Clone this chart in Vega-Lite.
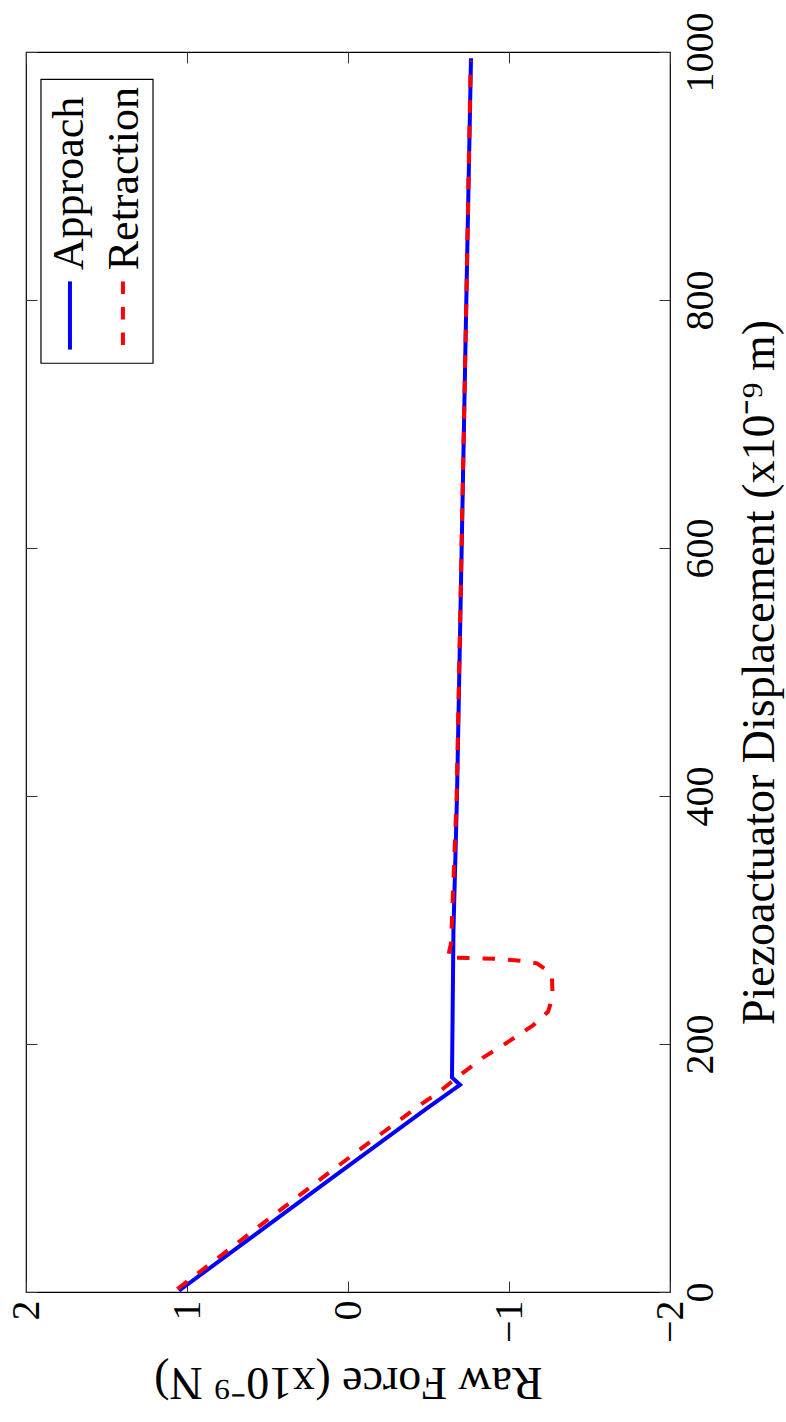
{
  "$schema": "https://vega.github.io/schema/vega-lite/v6.json",
  "width": 644,
  "height": 1240,
  "autosize": {"type": "none"},
  "padding": {"left": 26, "top": 52, "right": 116, "bottom": 130},
  "background": "white",
  "config": {
    "view": {"stroke": "black", "strokeWidth": 1.2},
    "font": "Liberation Serif",
    "axis": {
      "grid": false,
      "domain": false,
      "tickColor": "#333333",
      "tickWidth": 1,
      "tickSize": -11,
      "labelFont": "Liberation Serif",
      "labelFontSize": 40,
      "labelColor": "black",
      "labelFlush": false,
      "labelOverlap": false,
      "labelBound": false,
      "titleFont": "Liberation Serif",
      "titleFontSize": 46,
      "titleFontWeight": "normal",
      "titleColor": "black"
    }
  },
  "datasets": {
    "curves": [
      {"series": "Approach", "disp": 1, "force": 1.05},
      {"series": "Approach", "disp": 90, "force": 0.12},
      {"series": "Approach", "disp": 148, "force": -0.49},
      {"series": "Approach", "disp": 167, "force": -0.696},
      {"series": "Approach", "disp": 173, "force": -0.646},
      {"series": "Approach", "disp": 292, "force": -0.655},
      {"series": "Approach", "disp": 400, "force": -0.677},
      {"series": "Approach", "disp": 600, "force": -0.706},
      {"series": "Approach", "disp": 800, "force": -0.735},
      {"series": "Approach", "disp": 995, "force": -0.764},
      {"series": "Retraction", "disp": 2.4, "force": 1.06},
      {"series": "Retraction", "disp": 96, "force": 0.12},
      {"series": "Retraction", "disp": 121, "force": -0.137},
      {"series": "Retraction", "disp": 152, "force": -0.46},
      {"series": "Retraction", "disp": 160, "force": -0.553},
      {"series": "Retraction", "disp": 175, "force": -0.696},
      {"series": "Retraction", "disp": 189, "force": -0.839},
      {"series": "Retraction", "disp": 199, "force": -0.963},
      {"series": "Retraction", "disp": 215, "force": -1.149},
      {"series": "Retraction", "disp": 226, "force": -1.242},
      {"series": "Retraction", "disp": 234, "force": -1.262},
      {"series": "Retraction", "disp": 241, "force": -1.27},
      {"series": "Retraction", "disp": 253, "force": -1.267},
      {"series": "Retraction", "disp": 260, "force": -1.23},
      {"series": "Retraction", "disp": 265, "force": -1.174},
      {"series": "Retraction", "disp": 267, "force": -1.08},
      {"series": "Retraction", "disp": 268.5, "force": -0.95},
      {"series": "Retraction", "disp": 269.3, "force": -0.78},
      {"series": "Retraction", "disp": 269.8, "force": -0.62},
      {"series": "Retraction", "disp": 281, "force": -0.64},
      {"series": "Retraction", "disp": 400, "force": -0.675},
      {"series": "Retraction", "disp": 600, "force": -0.705},
      {"series": "Retraction", "disp": 800, "force": -0.735},
      {"series": "Retraction", "disp": 993, "force": -0.762}
    ]
  },
  "layer": [
    {
      "data": {"name": "curves"},
      "transform": [{"filter": "datum.series === 'Approach'"}],
      "mark": {"type": "line", "color": "#0000ff", "strokeWidth": 4, "strokeJoin": "miter"},
      "encoding": {
        "x": {
          "field": "force",
          "type": "quantitative",
          "scale": {"domain": [-2, 2], "reverse": true, "nice": false, "zero": false},
          "axis": {
            "orient": "bottom",
            "values": [-2, -1, 0, 1, 2],
            "format": "d",
            "labelAngle": -90,
            "labelAlign": "right",
            "labelBaseline": "middle",
            "labelPadding": 19,
            "title": "Raw Force (x10⁻⁹ N)",
            "titleAngle": 180,
            "titleAlign": "center",
            "titleBaseline": "alphabetic",
            "titlePadding": 25
          }
        },
        "y": {
          "field": "disp",
          "type": "quantitative",
          "scale": {"domain": [0, 1000], "nice": false, "zero": false},
          "axis": {
            "orient": "right",
            "values": [0, 200, 400, 600, 800, 1000],
            "format": "d",
            "labelAngle": -90,
            "labelAlign": "center",
            "labelBaseline": "top",
            "labelPadding": 21,
            "title": "Piezoactuator Displacement (x10⁻⁹ m)",
            "titleAngle": -90,
            "titleAlign": "center",
            "titleBaseline": "top",
            "titlePadding": 17
          }
        },
        "order": {"field": "disp", "type": "quantitative"}
      }
    },
    {
      "data": {"name": "curves"},
      "transform": [{"filter": "datum.series === 'Retraction'"}],
      "mark": {"type": "line", "color": "#ff0000", "strokeWidth": 4, "strokeDash": [12.5, 13]},
      "encoding": {
        "x": {"field": "force", "type": "quantitative", "axis": null},
        "y": {"field": "disp", "type": "quantitative", "axis": null},
        "order": {"field": "disp", "type": "quantitative"}
      }
    },
    {
      "data": {"values": [{"box": "legend"}]},
      "mark": {"type": "rect", "fill": "white", "stroke": "black", "strokeWidth": 1.2},
      "encoding": {
        "x": {
          "datum": 1.907,
          "type": "quantitative",
          "scale": {"domain": [-2, 2], "reverse": true, "nice": false, "zero": false},
          "axis": {"orient": "top", "values": [-2, -1, 0, 1, 2], "labels": false, "title": null}
        },
        "x2": {"datum": 1.211},
        "y": {
          "datum": 978,
          "type": "quantitative",
          "scale": {"domain": [0, 1000], "nice": false, "zero": false},
          "axis": {"orient": "left", "values": [0, 200, 400, 600, 800, 1000], "labels": false, "title": null}
        },
        "y2": {"datum": 749}
      }
    },
    {
      "data": {"values": [{"label": "Approach"}]},
      "mark": {"type": "rule", "color": "#0000ff", "strokeWidth": 4},
      "encoding": {
        "x": {"datum": 1.727, "type": "quantitative", "axis": null},
        "y": {"datum": 815, "type": "quantitative", "axis": null},
        "y2": {"datum": 760}
      }
    },
    {
      "data": {"values": [{"label": "Retraction"}]},
      "mark": {"type": "rule", "color": "#ff0000", "strokeWidth": 4, "strokeDash": [12.5, 13]},
      "encoding": {
        "x": {"datum": 1.398, "type": "quantitative", "axis": null},
        "y": {"datum": 815, "type": "quantitative", "axis": null},
        "y2": {"datum": 760}
      }
    },
    {
      "data": {"values": [{"label": "Approach"}]},
      "mark": {"type": "text", "angle": 270, "align": "left", "baseline": "alphabetic", "fontSize": 44, "font": "Liberation Serif", "color": "black"},
      "encoding": {
        "x": {"datum": 1.646, "type": "quantitative", "axis": null},
        "y": {"datum": 824, "type": "quantitative", "axis": null},
        "text": {"field": "label"}
      }
    },
    {
      "data": {"values": [{"label": "Retraction"}]},
      "mark": {"type": "text", "angle": 270, "align": "left", "baseline": "alphabetic", "fontSize": 44, "font": "Liberation Serif", "color": "black"},
      "encoding": {
        "x": {"datum": 1.304, "type": "quantitative", "axis": null},
        "y": {"datum": 824, "type": "quantitative", "axis": null},
        "text": {"field": "label"}
      }
    }
  ],
  "resolve": {"axis": {"x": "independent", "y": "independent"}}
}
